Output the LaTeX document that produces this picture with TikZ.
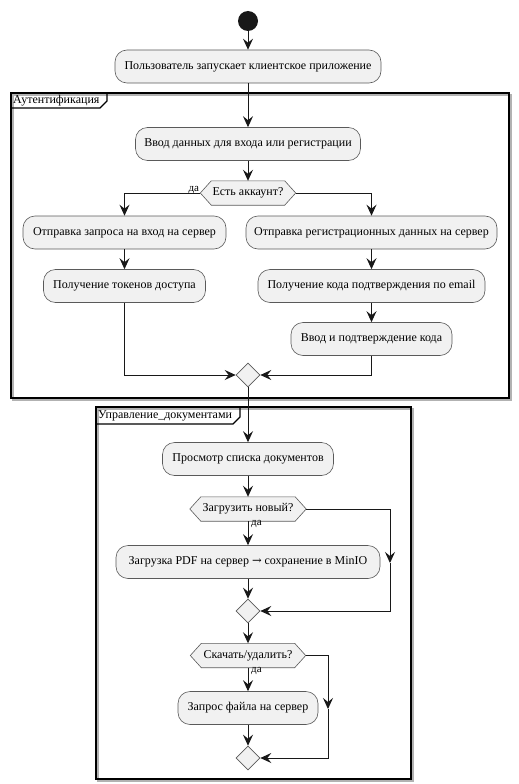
\documentclass[tikz,border=0pt]{standalone}
\usepackage{fontspec}
\setmainfont{Liberation Serif}
\usetikzlibrary{arrows.meta,shapes.geometric,calc}
\pgfdeclarelayer{background}
\pgfsetlayers{background,main}
\definecolor{boxfill}{HTML}{F1F1F1}
\definecolor{boxline}{HTML}{5A5A5A}
\definecolor{ink}{HTML}{181818}
\tikzset{
  action/.style={rectangle, rounded corners=12pt, draw=boxline, fill=boxfill,
    line width=0.6pt, minimum height=33pt, inner sep=0pt,
    font=\fontsize{12}{14}\selectfont},
  choice/.style={minimum height=24pt, inner sep=0pt, font=\fontsize{12}{14}\selectfont},
  merge/.style={diamond, draw=boxline, fill=boxfill, line width=0.6pt,
    minimum width=24pt, minimum height=24pt, inner sep=0pt},
  flow/.style={draw=ink, line width=1pt, -{Stealth[length=11pt,width=10pt,inset=4pt]}},
  frame/.style={draw=black, line width=1.4pt},
  frameshadow/.style={draw=black!30, line width=1.4pt},
  tag/.style={font=\fontsize{12}{14}\selectfont, inner sep=0pt, anchor=west},
  yes/.style={font=\fontsize{11}{13}\selectfont, inner sep=0pt}
}
% hexagonal decision outline around a named node
\newcommand{\hexdraw}[1]{%
  \begin{pgfonlayer}{background}
    \draw[draw=boxline, fill=boxfill, line width=0.6pt]
      (#1.west) -- ([xshift=11pt]#1.north west) -- ([xshift=-11pt]#1.north east)
      -- (#1.east) -- ([xshift=-11pt]#1.south east) -- ([xshift=11pt]#1.south west) -- cycle;
  \end{pgfonlayer}}
\begin{document}
\begin{tikzpicture}[x=1pt,y=-1pt]
\useasboundingbox (0,0) rectangle (519,784);

% partitions
\draw[frameshadow] (13,95) rectangle (511,400);
\draw[frame] (11,93) rectangle (509,398);
\draw[frame] (11,108) -- (100,108) -- (107,101) -- (107,93);
\node[tag] (tabA) at (13,101) {Аутентификация};

\draw[frameshadow] (98,409) rectangle (413,781);
\draw[frame] (96,407) rectangle (411,779);
\draw[frame] (96,424) -- (233,424) -- (240,417) -- (240,407);
\node[tag] (tabB) at (98,416) {Управление\_документами};

% start
\fill[ink] (248,21) circle (10pt);
\coordinate (start) at (248,31);

% nodes
\node[action, minimum width=266pt] (a1) at (248,66.5) {Пользователь запускает клиентское приложение};
\node[action, minimum width=225pt] (a2) at (248,144) {Ввод данных для входа или регистрации};
\node[choice, minimum width=95pt] (d1) at (248,193) {Есть аккаунт?};
\hexdraw{d1}
\node[action, minimum width=203pt] (a3) at (124.5,232.5) {Отправка запроса на вход на сервер};
\node[action, minimum width=251pt] (a4) at (371.5,232.5) {Отправка регистрационных данных на сервер};
\node[action, minimum width=162pt] (a5) at (124.5,286) {Получение токенов доступа};
\node[action, minimum width=227pt] (a6) at (371.5,286) {Получение кода подтверждения по email};
\node[action, minimum width=161pt] (a7) at (371.5,339) {Ввод и подтверждение кода};
\node[merge] (m1) at (248,375) {};

\node[action, minimum width=171pt] (a8) at (248,459) {Просмотр списка документов};
\node[choice, minimum width=116pt] (d2) at (248,509) {Загрузить новый?};
\hexdraw{d2}
\node[action, minimum width=264pt] (a9) at (248,562) {Загрузка PDF на сервер {\fontspec{DejaVu Serif}\fontsize{11.5}{12}\selectfont →} сохранение в MinIO};
\node[merge] (m2) at (248,611) {};
\node[choice, minimum width=115pt] (d3) at (248,655.5) {Скачать/удалить?};
\hexdraw{d3}
\node[action, minimum width=140pt] (a10) at (248,708) {Запрос файла на сервер};
\node[merge] (m3) at (248,758) {};

% bypass corners
\coordinate (b2top) at (390,509);
\coordinate (b2mid) at (390,563);
\coordinate (b3top) at (328,655.5);
\coordinate (b3mid) at (328,709);

% connectors
\draw[flow] (start) -- (a1.north);
\draw[flow] (a1.south) -- (a2.north);
\draw[flow] (a2.south) -- (d1.north);
\draw[flow] (d1.west) -| (a3.north);
\node[yes, anchor=south east] (yes1) at ([xshift=-1pt,yshift=-1pt]d1.west) {да};
\draw[flow] (d1.east) -| (a4.north);
\draw[flow] (a3.south) -- (a5.north);
\draw[flow] (a4.south) -- (a6.north);
\draw[flow] (a6.south) -- (a7.north);
\draw[flow] (a5.south) |- (m1.west);
\draw[flow] (a7.south) |- (m1.east);
\draw[flow] (m1.south) -- (a8.north);
\draw[flow] (a8.south) -- (d2.north);
\draw[flow] (d2.south) -- (a9.north);
\node[yes, anchor=north west] (yes2) at ([xshift=3pt,yshift=1pt]d2.south) {да};
\draw[flow] (d2.east) -- (b2top) -- (b2mid);
\draw[flow] (b2mid) |- (m2.east);
\draw[flow] (a9.south) -- (m2.north);
\draw[flow] (m2.south) -- (d3.north);
\draw[flow] (d3.south) -- (a10.north);
\node[yes, anchor=north west] (yes3) at ([xshift=3pt,yshift=1pt]d3.south) {да};
\draw[flow] (d3.east) -- (b3top) -- (b3mid);
\draw[flow] (b3mid) |- (m3.east);
\draw[flow] (a10.south) -- (m3.north);
\end{tikzpicture}
\end{document}
